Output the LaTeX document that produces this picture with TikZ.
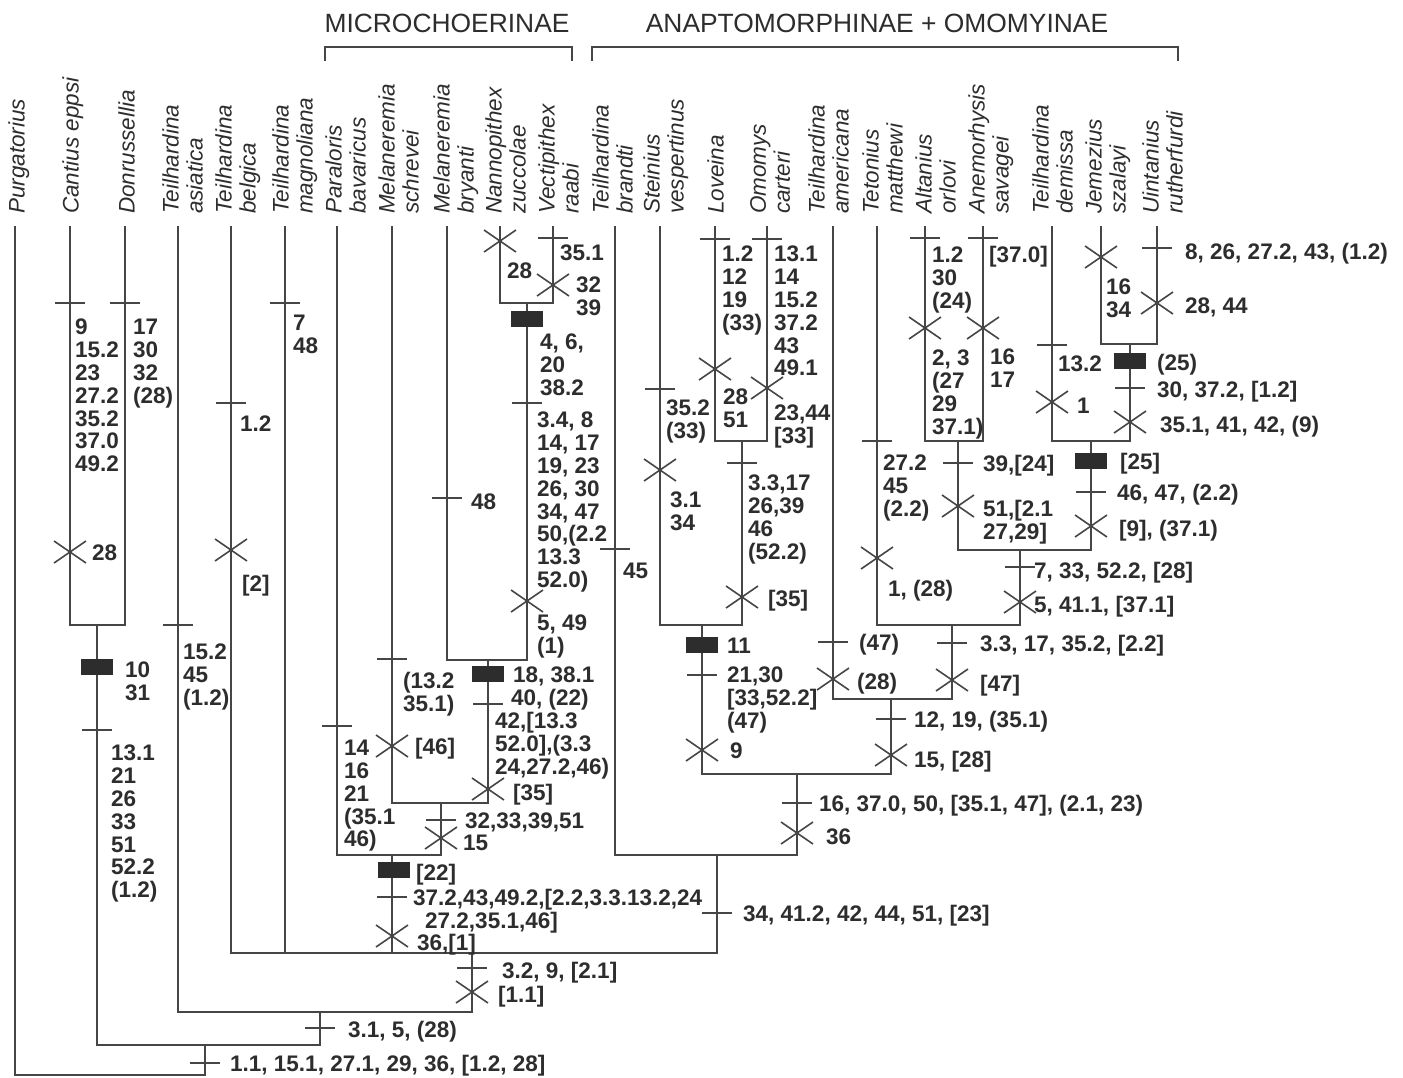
\documentclass[tikz,border=0pt]{standalone}
\usepackage{fontspec}
\setmainfont{Liberation Sans}
\definecolor{cladeline}{RGB}{70,70,70}
\definecolor{cladeink}{RGB}{45,45,45}

\begin{document}
\begin{tikzpicture}[
  x=1pt, y=-1pt,
  branch/.style={draw=cladeline, line width=1.6pt},
  chars/.style={anchor=base west, inner sep=0pt, align=left, text=cladeink, font=\fontsize{22.5}{22.8}\selectfont\bfseries},
  stack/.style={chars, anchor=north west},
  taxon/.style={rotate=90, anchor=north west, inner sep=0pt, align=left, text=cladeink, font=\fontsize{22.5}{24}\selectfont\itshape},
  group/.style={anchor=base, inner sep=0pt, text=cladeink, font=\fontsize{26.4}{28}\selectfont},
  gain/.pic={\draw[branch] (-15,0) -- (15,0);},
  loss/.pic={\draw[branch] (-16,-11) -- (16,11) (-16,11) -- (16,-11);},
  uniq/.pic={\fill[cladeink] (-16,-8) rectangle (16,8);}
]
\path[fill=white, use as bounding box] (0,0) rectangle (1403,1077);

% Group headers
\node[group] (micro) at (447,32) {MICROCHOERINAE};
\node[group] (anapto) at (877,32) {ANAPTOMORPHINAE + OMOMYINAE};
\draw[branch] (325,61) |- (572,47) -- (572,61);
\draw[branch] (592,61) |- (1178,47) -- (1178,61);

% Taxa
\node[taxon] (nPurg) at (8,214) {Purgatorius};
\node[taxon] (nCant) at (62,214) {Cantius eppsi};
\node[taxon] (nDonr) at (118,214) {Donrussellia};
\node[taxon] (nTasi) at (162,214) {Teilhardina\\asiatica};
\node[taxon] (nTbel) at (215,214) {Teilhardina\\belgica};
\node[taxon] (nTmag) at (272,214) {Teilhardina\\magnoliana};
\node[taxon] (nPara) at (325,214) {Paraloris\\bavaricus};
\node[taxon] (nMsch) at (378,214) {Melaneremia\\schrevei};
\node[taxon] (nMbry) at (433,214) {Melaneremia\\bryanti};
\node[taxon] (nNann) at (485,214) {Nannopithex\\zuccolae};
\node[taxon] (nVect) at (538,214) {Vectipithex\\raabi};
\node[taxon] (nTbra) at (592,214) {Teilhardina\\brandti};
\node[taxon] (nStei) at (643,214) {Steinius\\vespertinus};
\node[taxon] (nLove) at (707,214) {Loveina};
\node[taxon] (nOmom) at (750,214) {Omomys\\carteri};
\node[taxon] (nTame) at (808,214) {Teilhardina\\americana};
\node[taxon] (nTeto) at (862,214) {Tetonius\\matthewi};
\node[taxon] (nAlta) at (915,214) {Altanius\\orlovi};
\node[taxon] (nAnem) at (968,214) {Anemorhysis\\savagei};
\node[taxon] (nTdem) at (1032,214) {Teilhardina\\demissa};
\node[taxon] (nJeme) at (1085,214) {Jemezius\\szalayi};
\node[taxon] (nUint) at (1142,214) {Uintanius\\rutherfurdi};

% Tips
\coordinate (purg) at (15,226);
\coordinate (cant) at (70,226);
\coordinate (donr) at (125,226);
\coordinate (tasi) at (178,226);
\coordinate (tbel) at (231,226);
\coordinate (tmag) at (285,226);
\coordinate (para) at (337,226);
\coordinate (msch) at (392,226);
\coordinate (mbry) at (447,226);
\coordinate (nann) at (500,226);
\coordinate (vect) at (553,226);
\coordinate (tbra) at (615,226);
\coordinate (stei) at (660,226);
\coordinate (love) at (715,226);
\coordinate (omom) at (767,226);
\coordinate (tame) at (833,226);
\coordinate (teto) at (877,226);
\coordinate (alta) at (925,226);
\coordinate (anem) at (983,226);
\coordinate (tdem) at (1052,226);
\coordinate (jeme) at (1101,226);
\coordinate (uint) at (1157,226);

% Clades
\coordinate (root) at (205,1075);
\coordinate (cA) at (205,1045);
\coordinate (cCD) at (97,625);
\coordinate (cB) at (320,1012);
\coordinate (cC) at (472,953);
\coordinate (cMi) at (392,855);
\coordinate (cM2) at (441,803);
\coordinate (cM3) at (488,660);
\coordinate (cNV) at (527,303);
\coordinate (cR) at (717,855);
\coordinate (cS) at (797,774);
\coordinate (cLo) at (702,625);
\coordinate (cLO2) at (742,441);
\coordinate (cT) at (891,699);
\coordinate (cT2) at (952,625);
\coordinate (cT3) at (1020,550);
\coordinate (cAA) at (958,441);
\coordinate (cDU) at (1091,441);
\coordinate (cJU) at (1130,344);

% Branches
\draw[branch] (purg) |- (root) -- (cA);
\draw[branch] (cCD) |- (cA) -| (cB);
\draw[branch] (cant) |- (cCD) -| (donr);
\draw[branch] (tasi) |- (cB) -| (cC);
\draw[branch] (tbel) |- (cC) -| (cR);
\draw[branch] (tmag) |- (cC);
\draw[branch] (cMi) |- (cC);
\draw[branch] (para) |- (cMi) -| (cM2);
\draw[branch] (msch) |- (cM2) -| (cM3);
\draw[branch] (mbry) |- (cM3) -| (cNV);
\draw[branch] (nann) |- (cNV) -| (vect);
\draw[branch] (tbra) |- (cR) -| (cS);
\draw[branch] (cLo) |- (cS) -| (cT);
\draw[branch] (stei) |- (cLo) -| (cLO2);
\draw[branch] (love) |- (cLO2) -| (omom);
\draw[branch] (tame) |- (cT) -| (cT2);
\draw[branch] (teto) |- (cT2) -| (cT3);
\draw[branch] (cAA) |- (cT3) -| (cDU);
\draw[branch] (alta) |- (cAA) -| (anem);
\draw[branch] (tdem) |- (cDU) -| (cJU);
\draw[branch] (jeme) |- (cJU) -| (uint);

% Basal characters
\pic at (205,1063) {gain};
\node[chars] (rootA) at (230,1071) {1.1, 15.1, 27.1, 29, 36, [1.2, 28]};
\pic at (320,1028) {gain};
\node[chars] (cladeB) at (348,1037) {3.1, 5, (28)};
\pic at (472,968) {gain};
\node[chars] (cladeCa) at (502,978) {3.2, 9, [2.1]};
\pic at (472,992) {loss};
\node[chars] (cladeCb) at (498,1002) {[1.1]};

% Cantius + Donrussellia
\pic at (97,667) {uniq};
\node[stack] (cdA) at (125,662) {10\\31};
\pic at (97,730) {gain};
\node[stack] (cdB) at (111,745) {13.1\\21\\26\\33\\51\\52.2\\(1.2)};
\pic at (70,303) {gain};
\node[stack] (cantA) at (75,319) {9\\15.2\\23\\27.2\\35.2\\37.0\\49.2};
\pic at (70,552) {loss};
\node[chars] (cantB) at (92,560) {28};
\pic at (125,303) {gain};
\node[stack] (donrA) at (133,319) {17\\30\\32\\(28)};

% Early Teilhardina
\pic at (178,625) {gain};
\node[stack] (tasiA) at (183,644) {15.2\\45\\(1.2)};
\pic at (231,403) {gain};
\node[chars] (tbelA) at (240,431) {1.2};
\pic at (231,550) {loss};
\node[chars] (tbelB) at (242,591) {[2]};
\pic at (285,303) {gain};
\node[stack] (tmagA) at (293,315) {7\\48};

% Microchoerinae
\pic at (394,870) {uniq};
\node[chars] (miA) at (416,880) {[22]};
\pic at (392,897) {gain};
\node[stack] (miB) at (413,889) {37.2,43,49.2,[2.2,3.3.13.2,24\\\hspace*{12pt}27.2,35.1,46]};
\pic at (392,936) {loss};
\node[chars] (miC) at (417,950) {36,[1]};
\pic at (337,726) {gain};
\node[stack] (paraA) at (344,740) {14\\16\\21\\(35.1\\46)};
\pic at (441,820) {gain};
\node[chars] (m2A) at (465,828) {32,33,39,51};
\pic at (441,838) {loss};
\node[chars] (m2B) at (463,850) {15};
\pic at (392,659) {gain};
\node[stack] (mschA) at (403,672) {(13.2\\35.1)};
\pic at (392,746) {loss};
\node[chars] (mschB) at (415,754) {[46]};
\pic at (488,674) {uniq};
\node[chars] (m3A) at (513,682) {18, 38.1};
\pic at (488,704) {gain};
\node[chars] (m3B) at (511,705) {40, (22)};
\node[stack] (m3C) at (495,712) {42,[13.3\\52.0],(3.3\\24,27.2,46)};
\pic at (488,789) {loss};
\node[chars] (m3D) at (513,800) {[35]};
\pic at (447,498) {gain};
\node[chars] (mbryA) at (471,509) {48};
\pic at (527,319) {uniq};
\node[stack] (nvA) at (540,334) {4, 6,\\20\\38.2};
\pic at (527,403) {gain};
\node[stack] (nvB) at (537,412) {3.4, 8\\14, 17\\19, 23\\26, 30\\34, 47\\50,(2.2\\13.3\\52.0)};
\pic at (527,601) {loss};
\node[stack] (nvC) at (537,615) {5, 49\\(1)};
\pic at (500,241) {loss};
\node[chars] (nannA) at (507,278) {28};
\pic at (553,238) {gain};
\node[chars] (vectA) at (560,260) {35.1};
\pic at (553,285) {loss};
\node[stack] (vectB) at (576,277) {32\\39};

% Anaptomorphinae + Omomyinae
\pic at (717,913) {gain};
\node[chars] (rA) at (743,921) {34, 41.2, 42, 44, 51, [23]};
\pic at (615,549) {gain};
\node[chars] (tbraA) at (623,578) {45};
\pic at (797,803) {gain};
\node[chars] (sA) at (819,811) {16, 37.0, 50, [35.1, 47], (2.1, 23)};
\pic at (797,833) {loss};
\node[chars] (sB) at (826,844) {36};

% Steinius, Loveina, Omomys
\pic at (702,645) {uniq};
\node[chars] (loA) at (727,653) {11};
\pic at (702,675) {gain};
\node[stack] (loB) at (727,667) {21,30\\{}[33,52.2]\\(47)};
\pic at (702,750) {loss};
\node[chars] (loC) at (730,758) {9};
\pic at (660,389) {gain};
\node[stack] (steiA) at (666,400) {35.2\\(33)};
\pic at (660,470) {loss};
\node[stack] (steiB) at (670,492) {3.1\\34};
\pic at (742,463) {gain};
\node[stack] (lo2A) at (748,475) {3.3,17\\26,39\\46\\(52.2)};
\pic at (742,597) {loss};
\node[chars] (lo2B) at (768,606) {[35]};
\pic at (715,239) {gain};
\node[stack] (loveA) at (722,246) {1.2\\12\\19\\(33)};
\pic at (715,369) {loss};
\node[stack] (loveB) at (723,389) {28\\51};
\pic at (767,239) {gain};
\node[stack] (omomA) at (774,246) {13.1\\14\\15.2\\37.2\\43\\49.1};
\pic at (767,388) {loss};
\node[stack] (omomB) at (774,405) {23,44\\{}[33]};

% Tetonius group
\pic at (891,719) {gain};
\node[chars] (tA) at (914,727) {12, 19, (35.1)};
\pic at (891,755) {loss};
\node[chars] (tB) at (914,767) {15, [28]};
\pic at (833,642) {gain};
\node[chars] (tameA) at (859,650) {(47)};
\pic at (833,679) {loss};
\node[chars] (tameB) at (857,689) {(28)};
\pic at (952,643) {gain};
\node[chars] (t2A) at (980,651) {3.3, 17, 35.2, [2.2]};
\pic at (952,680) {loss};
\node[chars] (t2B) at (980,691) {[47]};
\pic at (877,441) {gain};
\node[stack] (tetoA) at (883,455) {27.2\\45\\(2.2)};
\pic at (877,558) {loss};
\node[chars] (tetoB) at (888,596) {1, (28)};
\pic at (1020,567) {gain};
\node[chars] (t3A) at (1034,578) {7, 33, 52.2, [28]};
\pic at (1020,602) {loss};
\node[chars] (t3B) at (1034,612) {5, 41.1, [37.1]};

% Altanius + Anemorhysis
\pic at (958,463) {gain};
\node[chars] (aaA) at (983,471) {39,[24]};
\pic at (958,506) {loss};
\node[stack] (aaB) at (983,500) {51,[2.1\\27,29]};
\pic at (925,238) {gain};
\node[stack] (altaA) at (932,247) {1.2\\30\\(24)};
\pic at (925,328) {loss};
\node[stack] (altaB) at (932,350) {2, 3\\(27\\29\\37.1)};
\pic at (983,238) {gain};
\node[chars] (anemA) at (989,262) {[37.0]};
\pic at (983,328) {loss};
\node[stack] (anemB) at (990,349) {16\\17};

% T. demissa, Jemezius, Uintanius
\pic at (1091,461) {uniq};
\node[chars] (duA) at (1120,469) {[25]};
\pic at (1091,492) {gain};
\node[chars] (duB) at (1117,500) {46, 47, (2.2)};
\pic at (1091,526) {loss};
\node[chars] (duC) at (1119,536) {[9], (37.1)};
\pic at (1052,345) {gain};
\node[chars] (tdemA) at (1058,371) {13.2};
\pic at (1052,402) {loss};
\node[chars] (tdemB) at (1077,413) {1};
\pic at (1130,361) {uniq};
\node[chars] (juA) at (1157,370) {(25)};
\pic at (1130,388) {gain};
\node[chars] (juB) at (1157,397) {30, 37.2, [1.2]};
\pic at (1130,422) {loss};
\node[chars] (juC) at (1160,432) {35.1, 41, 42, (9)};
\pic at (1101,257) {loss};
\node[stack] (jemeA) at (1106,279) {16\\34};
\pic at (1157,248) {gain};
\node[chars] (uintA) at (1185,259) {8, 26, 27.2, 43, (1.2)};
\pic at (1157,303) {loss};
\node[chars] (uintB) at (1185,313) {28, 44};

\end{tikzpicture}
\end{document}
